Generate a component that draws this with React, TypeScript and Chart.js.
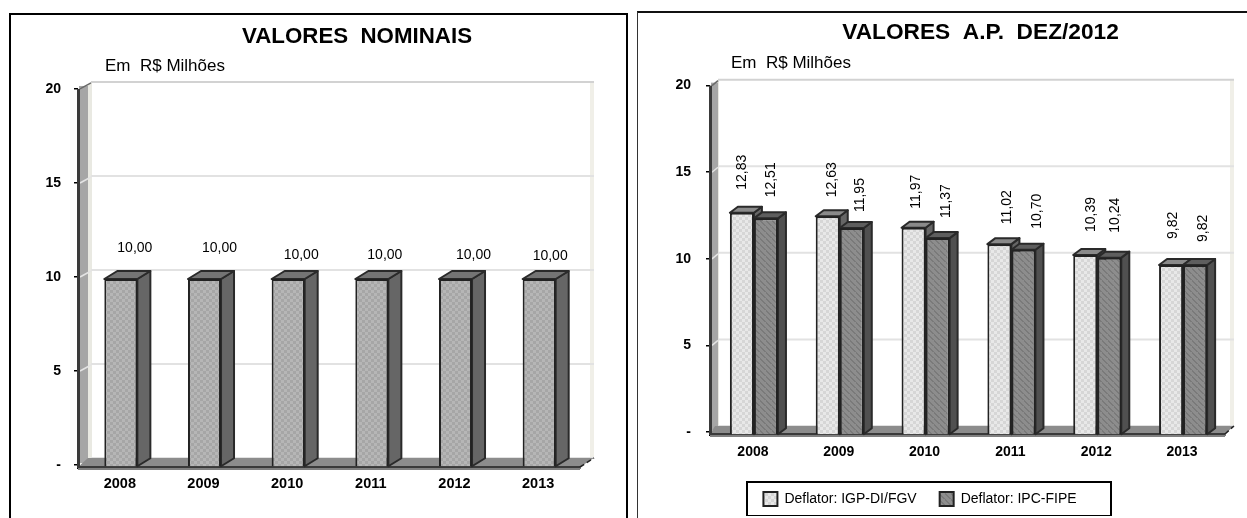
import React, { useEffect, useRef } from "react";
import { Chart, registerables } from "chart.js";

Chart.register(...registerables);

const years = ["2008", "2009", "2010", "2011", "2012", "2013"];
const nominal = [10, 10, 10, 10, 10, 10];
const igp = [12.83, 12.63, 11.97, 11.02, 10.39, 9.82];
const ipc = [12.51, 11.95, 11.37, 10.7, 10.24, 9.82];
const titleLeft = "VALORES  NOMINAIS";
const titleRight = "VALORES  A.P.  DEZ/2012";
const unit = "Em  R$ Milhões";
const FONT = "'Liberation Sans', Arial, sans-serif";

function pattern(kind: string) {
  const c = document.createElement("canvas");
  c.width = 6;
  c.height = 6;
  const x = c.getContext("2d")!;
  if (kind === "stripes") {
    x.fillStyle = "#8d8d8d";
    x.fillRect(0, 0, 6, 6);
    x.fillStyle = "#7a7a7a";
    for (let i = 0; i < 6; i++) x.fillRect(i, i % 6, 1, 2);
  } else {
    const a = kind === "light" ? "#e8e8e8" : "#b6b6b6";
    const b = kind === "light" ? "#d6d6d6" : "#a6a6a6";
    x.fillStyle = a;
    x.fillRect(0, 0, 6, 6);
    x.fillStyle = b;
    x.fillRect(0, 0, 3, 3);
    x.fillRect(3, 3, 3, 3);
  }
  return x.createPattern(c, "repeat")!;
}

type Cfg = {
  wallDx: number; wallDy: number; wallGrey: number; barDx: number; barDy: number; shift: number; shiftX: number;
  side: string[]; top: string[]; titleCenter: number; unitX: number; unitY: number;
  band: number; legendBox?: [number, number, number];
  label: (ctx: CanvasRenderingContext2D, ds: number, i: number, x: number, y: number, v: number) => void;
};

function poly(ctx: CanvasRenderingContext2D, pts: number[][], fill: string, stroke?: string) {
  ctx.beginPath();
  pts.forEach((p, i) => (i ? ctx.lineTo(p[0], p[1]) : ctx.moveTo(p[0], p[1])));
  ctx.closePath();
  ctx.fillStyle = fill;
  ctx.fill();
  if (stroke) {
    ctx.strokeStyle = stroke;
    ctx.lineWidth = 2;
    ctx.lineJoin = "round";
    ctx.stroke();
  }
}

function deco(cfg: Cfg) {
  return {
    id: "deco",
    afterLayout(chart: any) {
      const t = chart.titleBlock;
      const w = t.right - t.left;
      t.left = cfg.titleCenter - w / 2;
      t.right = cfg.titleCenter + w / 2;
    },
    beforeDatasetsDraw(chart: any) {
      const ctx = chart.ctx as CanvasRenderingContext2D;
      const { left, right, top, bottom } = chart.chartArea;
      const y = chart.scales.y;
      const { wallDx: dx, wallDy: dy } = cfg;
      ctx.save();
      // side wall: pale inner strip and grey band
      poly(ctx, [[left, top], [left + dx, top - dy], [left + dx, bottom - dy], [left, bottom]], "#e9e9e2");
      ctx.fillStyle = "#a6a6a6";
      ctx.fillRect(left + 1, top - 3, cfg.wallGrey, bottom - top + 1);
      // right wall strip
      ctx.fillStyle = "#f0efe8";
      ctx.fillRect(right + dx - 4, top - dy, 4, bottom - top);
      // grid lines
      y.ticks.forEach((t: any) => {
        const py = y.getPixelForValue(t.value);
        ctx.strokeStyle = t.value === 20 ? "#d2d2d2" : "#e2e2e2";
        ctx.lineWidth = 2;
        ctx.beginPath();
        ctx.moveTo(left + dx - 1, py - dy);
        ctx.lineTo(right + dx, py - dy);
        ctx.stroke();
        ctx.strokeStyle = t.value === 20 ? "#6a6a6a" : "#e4e4e4";
        ctx.lineWidth = 1.5;
        if (t.value !== 0) {
          ctx.beginPath();
          ctx.moveTo(left + 2, py);
          ctx.lineTo(left + dx - 1, py - dy + 1);
          ctx.stroke();
        }
      });
      // floor
      poly(ctx, [[left, bottom + 2], [left + dx - 4, bottom - dy], [right + dx, bottom - dy], [right, bottom + 2]], "#8c8c8c");
      ctx.fillStyle = "#808080";
      ctx.fillRect(left, bottom + 2, right - left, cfg.band);
      ctx.fillStyle = "#3a3a3a";
      ctx.fillRect(left, bottom + 1, right - left, 2);
      // diagonal at the right end
      ctx.strokeStyle = "#222";
      ctx.lineWidth = 1.5;
      ctx.setLineDash([5, 3]);
      ctx.beginPath();
      ctx.moveTo(right, bottom + 2);
      ctx.lineTo(right + dx, bottom - dy);
      ctx.stroke();
      ctx.setLineDash([]);
      // axis
      ctx.fillStyle = "#3a3a3a";
      ctx.fillRect(left - 1, top, 3, bottom - top + 3);
      // bar extrusions
      ctx.translate(cfg.shiftX, cfg.shift);
      chart.data.datasets.forEach((_: any, d: number) => {
        chart.getDatasetMeta(d).data.forEach((b: any) => {
          const hw = b.width / 2;
          const xl = b.x - hw;
          const xr = b.x + hw;
          poly(ctx, [[xr, b.y], [xr + cfg.barDx, b.y - cfg.barDy], [xr + cfg.barDx, b.base - cfg.barDy], [xr, b.base]], cfg.side[d], "#2a2a2a");
          poly(ctx, [[xl, b.y], [xl + cfg.barDx, b.y - cfg.barDy], [xr + cfg.barDx, b.y - cfg.barDy], [xr, b.y]], cfg.top[d], "#2a2a2a");
        });
      });
    },
    afterDatasetsDraw(chart: any) {
      const ctx = chart.ctx as CanvasRenderingContext2D;
      ctx.restore();
      ctx.save();
      ctx.fillStyle = "#000";
      ctx.font = `14px ${FONT}`;
      chart.data.datasets.forEach((ds: any, d: number) => {
        chart.getDatasetMeta(d).data.forEach((b: any, i: number) => {
          cfg.label(ctx, d, i, b.x, b.y, ds.data[i]);
        });
      });
      ctx.textAlign = "left";
      ctx.textBaseline = "middle";
      ctx.font = `17px ${FONT}`;
      ctx.fillText(unit, cfg.unitX, cfg.unitY);
      if (cfg.legendBox) {
        const l = chart.legend;
        const hb = l.legendHitBoxes[0];
        const [w, h, cx] = cfg.legendBox;
        ctx.strokeStyle = "#000";
        ctx.lineWidth = 2;
        ctx.strokeRect(cx - w / 2, hb.top + hb.height / 2 - h / 2, w, h);
      }
      ctx.restore();
    },
  };
}

const fmt = (v: number) => v.toFixed(2).replace(".", ",");
const leftOffX = [15, 16, 14, 14, 19, 12];
const leftOffY = [-29, -29, -22, -22, -22, -21];
const rightOffX = [[1, 5, 4, 9, 7, 3], [6, 9, 10, 15, 7, 9]];
const rightOffY = [[-20, -16, -16, -17, -20, -23], [-18, -13, -17, -18, -22, -20]];

function baseOptions(p: {
  yWidth: number; xHeight: number; right: number; titleTop: number; titleBottom: number; titleSize: number;
  yPad: number; xPad: number; legend: boolean; fontX: number; barPct: number;
}): any {
  return {
    animation: false,
    responsive: false,
    devicePixelRatio: 1,
    layout: { padding: { right: p.right, left: 0, top: 0, bottom: 0 } },
    datasets: { bar: { categoryPercentage: p.barPct, barPercentage: 1, clip: false } },
    plugins: {
      tooltip: { enabled: false },
      title: {
        display: true,
        font: { family: FONT, size: p.titleSize, weight: "bold" },
        color: "#000",
        padding: { top: p.titleTop, bottom: p.titleBottom },
      },
      legend: p.legend
        ? {
            display: true,
            position: "bottom",
            labels: {
              boxWidth: 14,
              boxHeight: 14,
              padding: 23,
              color: "#000",
              font: { family: FONT, size: 14 },
            },
          }
        : { display: false },
    },
    scales: {
      x: {
        grid: { drawOnChartArea: false, drawTicks: true, tickLength: 4, color: "#000", lineWidth: 1.5 },
        border: { display: false },
        ticks: {
          padding: p.xPad,
          color: "#000",
          maxRotation: 0,
          autoSkip: false,
          font: { family: FONT, size: p.fontX, weight: "bold" },
        },
        afterFit(a: any) { a.height = p.xHeight; },
      },
      y: {
        min: 0,
        max: 20,
        grid: { drawOnChartArea: false, drawTicks: true, tickLength: 4, color: "#000", lineWidth: 1.5 },
        border: { display: false },
        ticks: {
          stepSize: 5,
          padding: p.yPad,
          color: "#000",
          font: { family: FONT, size: 14, weight: "bold" },
          callback: (v: number) => (v === 0 ? "-" : String(v)),
        },
        afterFit(a: any) { a.width = p.yWidth; },
      },
    },
  };
}

export default function App() {
  const l = useRef<HTMLCanvasElement>(null);
  const r = useRef<HTMLCanvasElement>(null);
  useEffect(() => {
    const a = new Chart(l.current!, {
      type: "bar",
      data: {
        labels: years,
        datasets: [{
          label: "Valores nominais", data: nominal, backgroundColor: pattern("mid"),
          borderColor: "#222", borderWidth: 2,
        }],
      },
      options: (() => {
        const o = baseOptions({
          yWidth: 68, xHeight: 53, right: 46, titleTop: 8, titleBottom: 39.2, titleSize: 22.3,
          yPad: 13, xPad: 6, legend: false, fontX: 14.5, barPct: 0.395,
        });
        o.plugins.title.text = titleLeft;
        return o;
      })(),
      plugins: [deco({
        wallDx: 14, wallDy: 7, wallGrey: 9, barDx: 13, barDy: 8, shift: 2, shiftX: 1,
        side: ["#666666"], top: ["#747474"], titleCenter: 347, unitX: 95, unitY: 51, band: 3,
        label(ctx, _d, i, x, y, v) {
          ctx.textAlign = "center";
          ctx.textBaseline = "middle";
          ctx.fillText(fmt(v), x + leftOffX[i], y + leftOffY[i]);
        },
      }) as any],
    });
    const b = new Chart(r.current!, {
      type: "bar",
      data: {
        labels: years,
        datasets: [
          { label: "Deflator: IGP-DI/FGV", data: igp, backgroundColor: pattern("light"), borderColor: "#222", borderWidth: 2 },
          { label: "Deflator: IPC-FIPE", data: ipc, backgroundColor: pattern("stripes"), borderColor: "#222", borderWidth: 2 },
        ],
      },
      options: (() => {
        const o = baseOptions({
          yWidth: 95, xHeight: 37, right: 30, titleTop: 6, titleBottom: 39.4, titleSize: 22.7,
          yPad: 15, xPad: 8, legend: true, fontX: 14, barPct: 0.56,
        });
        o.plugins.title.text = titleRight;
        return o;
      })(),
      plugins: [deco({
        wallDx: 9, wallDy: 6, wallGrey: 7, barDx: 8, barDy: 6, shift: 3, shiftX: 1,
        side: ["#666666", "#505050"], top: ["#8a8a8a", "#5e5e5e"], titleCenter: 365.5, unitX: 116, unitY: 50, band: 3,
        legendBox: [364, 34, 314],
        label(ctx, d, i, x, y, v) {
          ctx.save();
          ctx.translate(x + rightOffX[d][i], y + rightOffY[d][i]);
          ctx.rotate(-Math.PI / 2);
          ctx.textAlign = "left";
          ctx.textBaseline = "middle";
          ctx.fillText(fmt(v), 0, 0);
          ctx.restore();
        },
      }) as any],
    });
    return () => { a.destroy(); b.destroy(); };
  }, []);
  return (
    <div style={{ position: "fixed", left: 0, top: 0, width: 1247, height: 518, overflow: "hidden", background: "#fff" }}>
      <div style={{ position: "absolute", left: 9, top: 13, width: 619, height: 520, border: "2px solid #000", boxSizing: "border-box" }} />
      <div style={{ position: "absolute", left: 637, top: 11, width: 620, height: 520, borderTop: "2px solid #111", borderLeft: "1px solid #333", boxSizing: "border-box" }} />
      <canvas ref={l} width={616} height={503} style={{ position: "absolute", left: 10, top: 15 }} />
      <canvas ref={r} width={640} height={503} style={{ position: "absolute", left: 615, top: 13 }} />
    </div>
  );
}
